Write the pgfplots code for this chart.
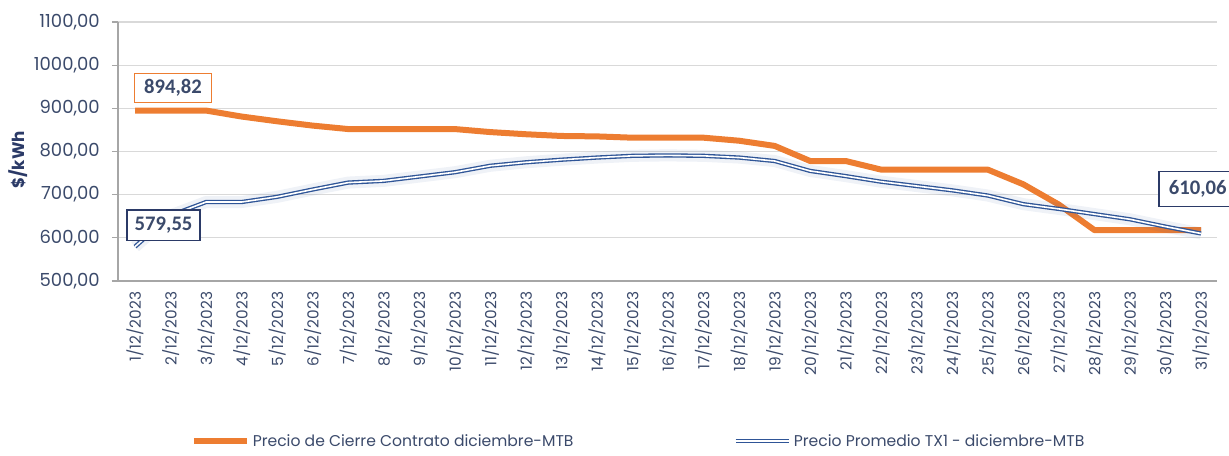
\documentclass[border=0pt]{standalone}
\usepackage{pgfplots}
\pgfplotsset{compat=1.18}
\usepackage{fontspec}
\setmainfont{Poppins}
\newfontfamily\labfont{Carlito}
\definecolor{corange}{HTML}{ED7D31}
\definecolor{cblue}{HTML}{2F5597}
\definecolor{ctext}{HTML}{3B4A6B}
\definecolor{cnavy}{HTML}{2B3A67}
\definecolor{cgrid}{HTML}{D9D9D9}
\definecolor{caxis}{HTML}{A6A6A6}
\begin{document}
\begin{tikzpicture}
\useasboundingbox (-88.5pt,-130.5pt) rectangle (833.25pt,210.75pt);
\begin{axis}[
  scale only axis,
  width=824.25pt, height=194.25pt,
  at={(0,0)}, anchor=south west,
  xmin=0.52, xmax=31.45,
  ymin=500, ymax=1100,
  ytick={500,600,...,1100},
  xtick={1,...,31},
  xticklabel={\pgfmathparse{int(\tick)}\pgfmathresult/12/2023},
  xticklabel style={yshift=-8pt, rotate=90, anchor=east, inner sep=0pt, font=\fontsize{11.5}{13}\selectfont, text=ctext},
  yticklabel style={anchor=east, inner sep=0pt, xshift=-9pt, font=\fontsize{13.5}{15}\selectfont, text=ctext},
  /pgf/number format/assume math mode=true,
  y tick label style={/pgf/number format/.cd, fixed, fixed zerofill, precision=2, use comma, 1000 sep={}},
  ymajorgrids, grid style={cgrid, line width=0.8pt},
  axis x line*=bottom, axis y line*=left,
  x axis line style={caxis, line width=0.9pt, -, shorten <=-4.5pt},
  y axis line style={caxis, line width=0.9pt, -},
  major x tick style={draw=none},
  major y tick style={caxis, line width=0.9pt},
  ytick align=outside, major tick length=4.5pt,
  legend columns=2,
  legend style={at={(0.474,-0.618)}, anchor=center, draw=none, fill=none,
    font=\fontsize{11.7}{13}\selectfont, text=ctext,
    /tikz/every even column/.append style={column sep=118pt}},
  legend image code/.code={\draw[#1] (0pt,0pt) -- (40pt,0pt);},
  clip=false,
]
\addplot[corange, line width=4.5pt, line join=round] coordinates {
(1,894.82) (2,894.82) (3,894.82) (4,881) (5,870) (6,860) (7,852) (8,852) (9,852) (10,852)
(11,845) (12,840) (13,836) (14,835) (15,832) (16,832) (17,832) (18,825) (19,813) (20,778)
(21,778) (22,758) (23,758) (24,758) (25,758) (26,724) (27,677) (28,618) (29,618) (30,618) (31,618)
};
\addlegendentry{Precio de Cierre Contrato diciembre-MTB}
\addplot[cblue, line width=9pt, opacity=0.08, line join=round, forget plot] coordinates {
(1,579.55) (2,652) (3,683) (4,683) (5,695) (6,712) (7,728) (8,732) (9,742) (10,752)
(11,767) (12,775) (13,781) (14,786) (15,790) (16,791) (17,790) (18,786) (19,778) (20,755)
(21,743) (22,730) (23,720) (24,710) (25,698) (26,678) (27,667) (28,655) (29,643) (30,626) (31,610.06)
};
\addplot[cblue, line width=1pt, double=white, double distance=1.2pt, line join=round] coordinates {
(1,579.55) (2,652) (3,683) (4,683) (5,695) (6,712) (7,728) (8,732) (9,742) (10,752)
(11,767) (12,775) (13,781) (14,786) (15,790) (16,791) (17,790) (18,786) (19,778) (20,755)
(21,743) (22,730) (23,720) (24,710) (25,698) (26,678) (27,667) (28,655) (29,643) (30,626) (31,610.06)
};
\addlegendentry{Precio Promedio TX1 - diciembre-MTB}
\node[draw=corange, line width=1.1pt, fill=white, text=ctext, font=\labfont\bfseries\fontsize{15.5}{17}\selectfont,
  minimum width=57.75pt, minimum height=21.75pt, inner sep=0pt, xshift=28.5pt, yshift=16.9pt]
  at (axis cs:1,894.82) {894,82};
\node[draw=cnavy, line width=1.1pt, fill=white, text=ctext, font=\labfont\bfseries\fontsize{15.5}{17}\selectfont,
  minimum width=54.75pt, minimum height=23pt, inner sep=0pt, xshift=21.4pt, yshift=16.1pt]
  at (axis cs:1,579.55) {579,55};
\node[draw=cnavy, line width=1.1pt, fill=white, text=ctext, font=\labfont\bfseries\fontsize{15.5}{17}\selectfont,
  minimum width=58pt, minimum height=26pt, inner sep=0pt, xshift=-2.5pt, yshift=33.4pt]
  at (axis cs:31,610.06) {610,06};
\end{axis}
\node[rotate=90, text=cnavy, font=\bfseries\fontsize{12.5}{14}\selectfont] at (-75pt,90.75pt) {\$/kWh};
\end{tikzpicture}
\end{document}
